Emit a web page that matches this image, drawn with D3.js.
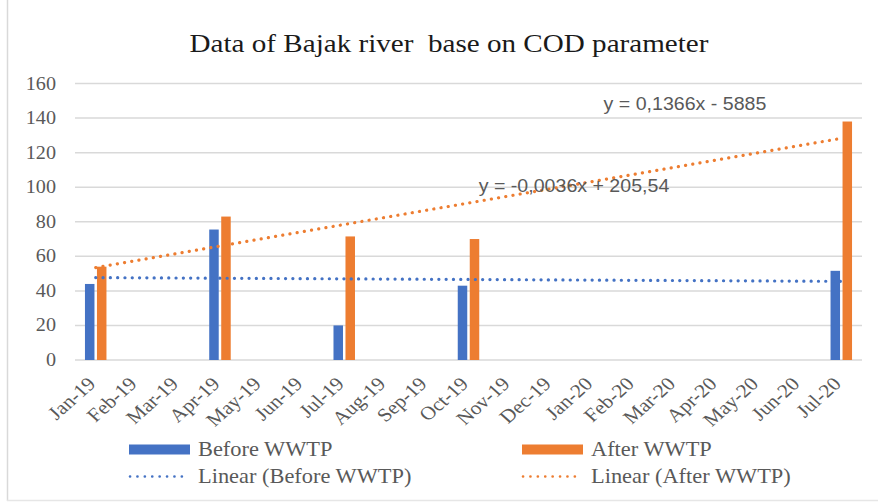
<!DOCTYPE html>
<html>
<head>
<meta charset="utf-8">
<script src="https://cdn.jsdelivr.net/npm/d3@7"></script>
<style>
  html, body { margin: 0; padding: 0; background: #fff; }
  svg { display: block; }
</style>
</head>
<body>
<svg id="chart" width="878" height="502"></svg>
<script>
// Data
var months = ['Jan-19','Feb-19','Mar-19','Apr-19','May-19','Jun-19','Jul-19','Aug-19','Sep-19',
              'Oct-19','Nov-19','Dec-19','Jan-20','Feb-20','Mar-20','Apr-20','May-20','Jun-20','Jul-20'];
var beforeWWTP = [44, null, null, 75.5, null, null, 20, null, null, 43, null, null, null, null, null, null, null, null, 51.6];
var afterWWTP  = [54, null, null, 83, null, null, 71.5, null, null, 70, null, null, null, null, null, null, null, null, 138];
var yTicks = [0, 20, 40, 60, 80, 100, 120, 140, 160];
var seriesNames = ['Before WWTP', 'After WWTP'];
var trendNames = ['Linear (Before WWTP)', 'Linear (After WWTP)'];
var trendLabels = ['y = -0,0036x + 205,54', 'y = 0,1366x - 5885'];

var COLORS = ['#4472C4', '#ED7D31'];
var GRID = '#d9d9d9', TXT = '#595959';
var SX = 1.12; // the picture is a bit wider than tall

var svg = d3.select('#chart');
var W = 878, H = 502;
var plot = { left: 75, right: 862, top: 83.5, bottom: 360 };

function stretched(sel, x, y) {
  return sel.attr('transform', 'translate(' + x + ',' + y + ') scale(' + SX + ',1)');
}

// frame
svg.append('line').attr('x1', 7.5).attr('x2', 7.5).attr('y1', 0).attr('y2', 501)
  .attr('stroke', GRID).attr('stroke-width', 1.5);
svg.append('line').attr('x1', 7).attr('x2', W).attr('y1', 500.5).attr('y2', 500.5)
  .attr('stroke', '#e6e6e6').attr('stroke-width', 1.5);

var x = d3.scaleBand().domain(months).range([plot.left, plot.right]).padding(0);
var xSub = d3.scaleBand().domain([0, 1]).range([0, x.bandwidth()])
  .paddingInner(0.208).paddingOuter(0.83);
var y = d3.scaleLinear().domain([0, 160]).range([plot.bottom, plot.top]);

// title
stretched(svg.append('text'), W / 2 + 10, 52)
  .attr('text-anchor', 'middle')
  .attr('font-family', '"Liberation Serif", "Times New Roman", serif')
  .attr('font-size', 26).attr('fill', '#1a1a1a')
  .attr('xml:space', 'preserve')
  .text('Data of Bajak river  base on COD parameter');

// gridlines + y labels
svg.append('g').selectAll('line').data(yTicks).enter().append('line')
  .attr('x1', plot.left).attr('x2', plot.right)
  .attr('y1', function(d) { return y(d); }).attr('y2', function(d) { return y(d); })
  .attr('stroke', GRID).attr('stroke-width', 1.5);

svg.append('g').selectAll('text').data(yTicks).enter().append('text')
  .each(function(d) { stretched(d3.select(this), 56, y(d) + 6); })
  .attr('text-anchor', 'end')
  .attr('font-family', '"Liberation Serif", "Times New Roman", serif')
  .attr('font-size', 18).attr('fill', TXT)
  .text(function(d) { return d; });

// x labels
svg.append('g').selectAll('text').data(months).enter().append('text')
  .attr('transform', function(d) {
    var cx = x(d) + x.bandwidth() / 2 + 1;
    return 'translate(' + cx + ',385) scale(' + SX + ',1) rotate(-45)';
  })
  .attr('text-anchor', 'end')
  .attr('font-family', '"Liberation Serif", "Times New Roman", serif')
  .attr('font-size', 19).attr('fill', TXT)
  .text(function(d) { return d; });

// bars
[beforeWWTP, afterWWTP].forEach(function(vals, si) {
  svg.append('g').selectAll('rect')
    .data(months.map(function(m, i) { return { m: m, v: vals[i] }; }).filter(function(d) { return d.v != null; }))
    .enter().append('rect')
    .attr('x', function(d) { return x(d.m) + xSub(si); })
    .attr('width', xSub.bandwidth())
    .attr('y', function(d) { return y(d.v); })
    .attr('height', function(d) { return y(0) - y(d.v); })
    .attr('fill', COLORS[si]);
});

// linear trendlines (least squares over Excel date serials)
function serial(label) {
  var mi = ['Jan','Feb','Mar','Apr','May','Jun','Jul','Aug','Sep','Oct','Nov','Dec'].indexOf(label.slice(0, 3));
  var yr = 2000 + parseInt(label.slice(4), 10);
  return (Date.UTC(yr, mi, 1) - Date.UTC(1899, 11, 30)) / 864e5;
}
function fit(vals) {
  var pts = months.map(function(m, i) { return [serial(m), vals[i]]; }).filter(function(p) { return p[1] != null; });
  var mx = d3.mean(pts, function(p) { return p[0]; }), my = d3.mean(pts, function(p) { return p[1]; });
  var sxy = d3.sum(pts, function(p) { return (p[0] - mx) * (p[1] - my); });
  var sxx = d3.sum(pts, function(p) { return (p[0] - mx) * (p[0] - mx); });
  var b = sxy / sxx;
  return function(s) { return my + b * (s - mx); };
}
[beforeWWTP, afterWWTP].forEach(function(vals, si) {
  var f = fit(vals);
  var ends = [months[0], months[months.length - 1]];
  svg.append('line')
    .attr('x1', x(ends[0]) + x.bandwidth() / 2).attr('y1', y(f(serial(ends[0]))))
    .attr('x2', x(ends[1]) + x.bandwidth() / 2).attr('y2', y(f(serial(ends[1]))))
    .attr('stroke', COLORS[si]).attr('stroke-width', 3.2)
    .attr('stroke-linecap', 'round').attr('stroke-dasharray', '0.1 7.2');
});

// equation labels
var eqPos = [[574, 192], [685, 110]];
trendLabels.forEach(function(t, i) {
  stretched(svg.append('text'), eqPos[i][0], eqPos[i][1])
    .attr('text-anchor', 'middle')
    .attr('font-family', '"Liberation Sans", Arial, sans-serif')
    .attr('font-size', 17.5).attr('fill', TXT)
    .text(t);
});

// legend
var legX = [129, 522], legY = [449.5, 476.5];
var legFont = '"Liberation Serif", "Times New Roman", serif';
seriesNames.forEach(function(n, i) {
  svg.append('rect').attr('x', legX[i]).attr('y', legY[0] - 5).attr('width', 61).attr('height', 10)
    .attr('fill', COLORS[i]);
  stretched(svg.append('text'), legX[i] + 69, legY[0] + 6.5)
    .attr('font-family', legFont).attr('font-size', 20).attr('fill', TXT).text(n);
});
trendNames.forEach(function(n, i) {
  svg.append('line').attr('x1', legX[i] + 1).attr('x2', legX[i] + 60)
    .attr('y1', legY[1]).attr('y2', legY[1])
    .attr('stroke', COLORS[i]).attr('stroke-width', 2.6)
    .attr('stroke-linecap', 'round').attr('stroke-dasharray', '0.1 7.3');
  stretched(svg.append('text'), legX[i] + 69, legY[1] + 6.5)
    .attr('font-family', legFont).attr('font-size', 20).attr('fill', TXT).text(n);
});
</script>
</body>
</html>
